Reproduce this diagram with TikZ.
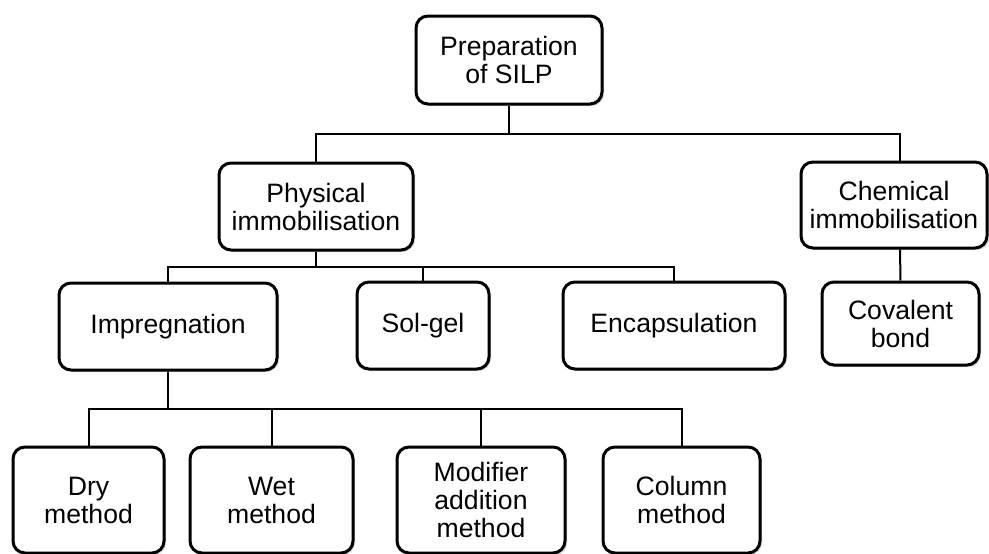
\documentclass[tikz,border=0pt]{standalone}
\usepackage{fontspec}
\setmainfont{Liberation Sans}
\usetikzlibrary{shadows}
\begin{document}
\begin{tikzpicture}[x=1pt,y=-1pt,
  box/.style={draw=black, line width=3pt, rounded corners=12pt, fill=white,
    align=center, inner sep=0pt, font=\fontsize{26.6}{28}\selectfont,
    drop shadow={shadow xshift=2pt, shadow yshift=-2pt, opacity=0.25, fill=black!60}},
  link/.style={draw=black, line width=2pt}]
\useasboundingbox (0,0) rectangle (989,554);
\node[box, minimum width=186pt, minimum height=88pt] (root) at (509,60) {Preparation\\of SILP};
\node[box, minimum width=194pt, minimum height=87pt] (phys) at (316,206.5) {Physical\\immobilisation};
\node[box, minimum width=186pt, minimum height=86pt] (chem) at (894,205) {Chemical\\immobilisation};
\node[box, minimum width=218pt, minimum height=87pt] (imp) at (168,326.5) {Impregnation};
\node[box, minimum width=132pt, minimum height=87pt] (sol) at (423,325.5) {Sol-gel};
\node[box, minimum width=222pt, minimum height=87pt] (enc) at (674,325.5) {Encapsulation};
\node[box, minimum width=157pt, minimum height=83pt] (cov) at (900.5,323.5) {Covalent\\bond};
\node[box, minimum width=151pt, minimum height=106pt] (dry) at (88.5,500) {Dry\\method};
\node[box, minimum width=163pt, minimum height=106pt] (wet) at (271.5,500) {Wet\\method};
\node[box, minimum width=168pt, minimum height=106pt] (mod) at (481,500) {Modifier\\addition\\method};
\node[box, minimum width=157pt, minimum height=106pt] (col) at (681.5,500) {Column\\method};
\coordinate (b1) at (509,134);
\coordinate (b2) at (316,267);
\coordinate (b3) at (168,409);
\draw[link] (root.south) -- (b1);
\draw[link] (phys.north) |- (b1) -| ([xshift=6pt]chem.north);
\draw[link] ([xshift=6pt]chem.south) -- (cov.north);
\draw[link] (phys.south) -- (b2);
\draw[link] (imp.north) |- (b2) -| (enc.north);
\draw[link] (sol.north) |- (b2);
\draw[link] (imp.south) -- (b3);
\draw[link] (dry.north) |- (b3) -| (col.north);
\draw[link] (wet.north) |- (b3);
\draw[link] (mod.north) |- (b3);
\end{tikzpicture}
\end{document}
